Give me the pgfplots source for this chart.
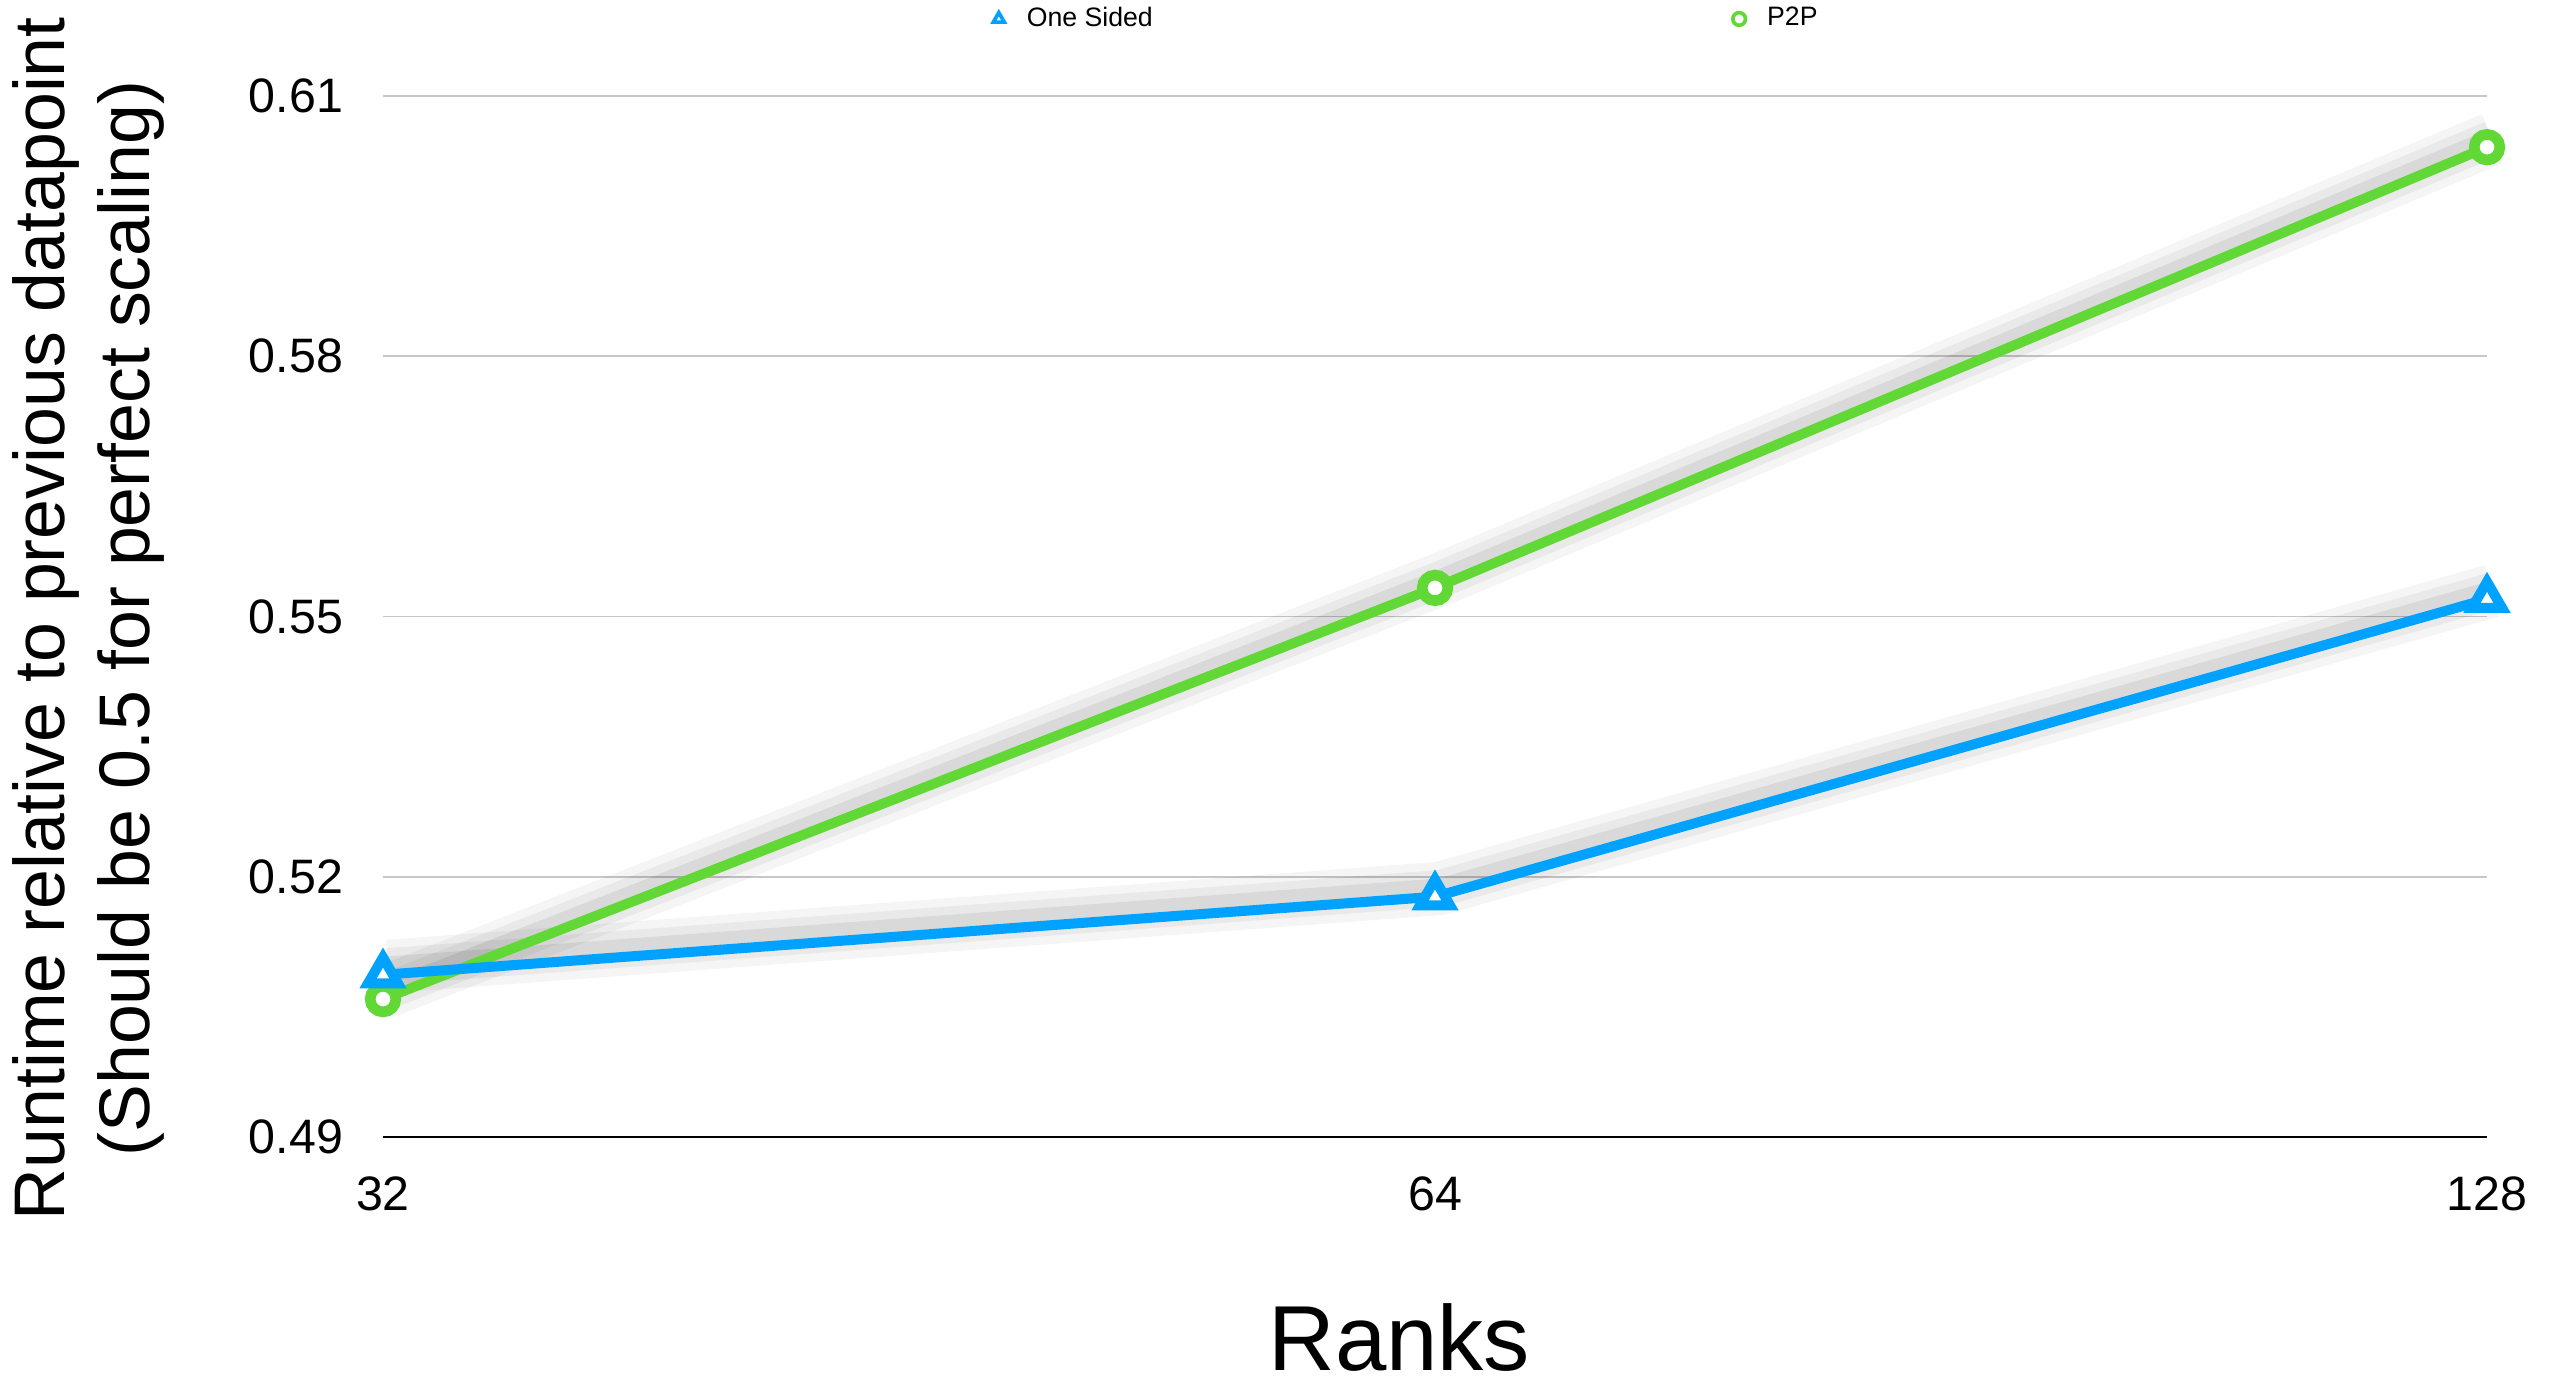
\documentclass[border=0pt]{standalone}
\usepackage{fontspec}
\setmainfont{Liberation Sans}
\usepackage{pgfplots}
\pgfplotsset{compat=1.18}
\definecolor{oneblue}{RGB}{0,162,255}
\definecolor{p2pgreen}{RGB}{98,216,54}
\begin{document}
\begin{tikzpicture}
\begin{axis}[
  at={(0,0)}, anchor=south west,
  scale only axis, width=631.2pt, height=312.3pt,
  xmin=0, xmax=2, ymin=0.49, ymax=0.61,
  clip=false,
  xtick={0,1,2}, xticklabels={32,64,128},
  ytick={0.49,0.52,0.55,0.58,0.61},
  yticklabels={0.49,0.52,0.55,0.58,0.61},
  /pgf/number format/assume math mode=true,
  ticklabel style={font=\fontsize{14.5}{16}\selectfont},
  yticklabel style={xshift=-8.5pt},
  xticklabel style={yshift=-8.5pt},
  major tick length=0pt,
  tick style={draw=none},
  axis x line*=bottom, axis y line*=left,
  x axis line style={black, line width=0.6pt, -},
  y axis line style={draw=none},
  ymajorgrids, grid style={black!22, line width=0.5pt},
  xlabel={Ranks},
  xlabel style={at={(axis description cs:0.483,0)}, anchor=center, inner sep=0pt, yshift=-60pt, font=\fontsize{27.7}{30}\selectfont},
  ylabel={Runtime relative to previous datapoint\\(Should be 0.5 for perfect scaling)},
  ylabel style={at={(axis description cs:-0.14,0.498)}, anchor=center, align=center, font=\fontsize{21.5}{25.5}\selectfont},
  legend columns=2,
  reverse legend=true,
  legend style={at={(axis description cs:0.285,1.074)}, anchor=west, draw=none, fill=none,
    font=\fontsize{8}{10}\selectfont,
    /tikz/every even column/.append style={column sep=172pt}},
  legend image code/.code={%
    \draw[#1, mark size=1.9pt, mark options={fill=white, line width=1.1pt}] plot coordinates {(0.1cm,0cm)};
    \path[draw=none] (0.1cm,0cm) -- ([xshift=6.4pt]0.1cm,0cm);},
]
% soft shadows
\addplot[forget plot, black, opacity=0.04, line width=16pt, shift={(1.5pt,2.5pt)}] coordinates {(0,0.5059) (1,0.5533) (2,0.6041)};
\addplot[forget plot, black, opacity=0.05, line width=11pt, shift={(1.5pt,2.5pt)}] coordinates {(0,0.5059) (1,0.5533) (2,0.6041)};
\addplot[forget plot, black, opacity=0.07, line width=6pt, shift={(1.5pt,2.5pt)}] coordinates {(0,0.5059) (1,0.5533) (2,0.6041)};
\addplot[forget plot, black, opacity=0.04, line width=16pt, shift={(1.5pt,2.5pt)}] coordinates {(0,0.5087) (1,0.5177) (2,0.5520)};
\addplot[forget plot, black, opacity=0.05, line width=11pt, shift={(1.5pt,2.5pt)}] coordinates {(0,0.5087) (1,0.5177) (2,0.5520)};
\addplot[forget plot, black, opacity=0.07, line width=6pt, shift={(1.5pt,2.5pt)}] coordinates {(0,0.5087) (1,0.5177) (2,0.5520)};
\addplot[p2pgreen, line width=3pt, mark=*, mark size=3.85pt, mark options={fill=white, draw=p2pgreen, line width=3.2pt}]
  coordinates {(0,0.5059) (1,0.5533) (2,0.6041)};
\addplot[oneblue, line width=3pt, mark=triangle*, mark size=5.2pt, mark options={fill=white, draw=oneblue, line width=3pt}]
  coordinates {(0,0.5087) (1,0.5177) (2,0.5520)};
\legend{P2P, One Sided}
\end{axis}
\pgfresetboundingbox
\path (-114.9pt,-74.4pt) rectangle (654.9pt,341.1pt);
\end{tikzpicture}
\end{document}
